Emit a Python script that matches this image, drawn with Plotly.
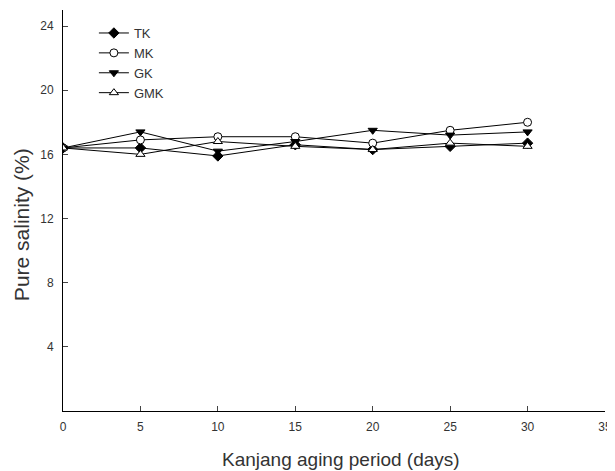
import plotly.graph_objects as go

days = [0, 5, 10, 15, 20, 25, 30]
tk = [16.4, 16.4, 15.9, 16.6, 16.3, 16.5, 16.7]
mk = [16.4, 16.9, 17.1, 17.1, 16.7, 17.5, 18.0]
gk = [16.4, 17.4, 16.2, 16.8, 17.5, 17.2, 17.4]
gmk = [16.4, 16.0, 16.8, 16.5, 16.3, 16.7, 16.5]

x_ticks = [0, 5, 10, 15, 20, 25, 30, 35]
y_ticks = [4, 8, 12, 16, 20, 24]

series = [
    ("TK", tk, "diamond", "black"),
    ("MK", mk, "circle", "white"),
    ("GK", gk, "triangle-down", "black"),
    ("GMK", gmk, "triangle-up", "white"),
]

fig = go.Figure()
for name, vals, sym, fill in series:
    fig.add_trace(go.Scatter(
        x=days, y=vals, name=name, mode="lines+markers",
        line=dict(color="black", width=1),
        marker=dict(symbol=sym, size=8, color=fill, line=dict(color="black", width=1)),
    ))

font = "Liberation Sans, Arial, sans-serif"
fig.update_layout(
    width=607, height=463,
    margin=dict(l=55, r=10, t=2, b=60, autoexpand=False),
    plot_bgcolor="white", paper_bgcolor="white",
    font=dict(family=font, size=12, color="#333"),
    legend=dict(x=0.057, y=0.98, xanchor="left", yanchor="top",
                bgcolor="rgba(0,0,0,0)", font=dict(size=13, color="#333"),
                tracegroupgap=0),
    xaxis=dict(range=[0, 35], tickvals=x_ticks, ticks="inside", ticklen=5,
               ticklabelstandoff=5,
               showline=True, linecolor="black", linewidth=1, showgrid=False,
               zeroline=False, automargin=False),
    yaxis=dict(range=[0, 25], tickvals=y_ticks, ticks="inside", ticklen=5,
               ticklabelstandoff=6,
               showline=True, linecolor="black", linewidth=1, showgrid=False,
               zeroline=False, automargin=False),
    annotations=[
        dict(text="Pure salinity (%)", textangle=-90,
             xref="paper", yref="paper", x=-0.0775, y=0.466,
             xanchor="center", yanchor="middle", showarrow=False,
             font=dict(size=21, color="#333")),
        dict(text="Kanjang aging period (days)",
             xref="paper", yref="paper", x=0.513, y=-0.12,
             xanchor="center", yanchor="middle", showarrow=False,
             font=dict(size=19, color="#333")),
    ],
)

fig.write_html("out.html")
